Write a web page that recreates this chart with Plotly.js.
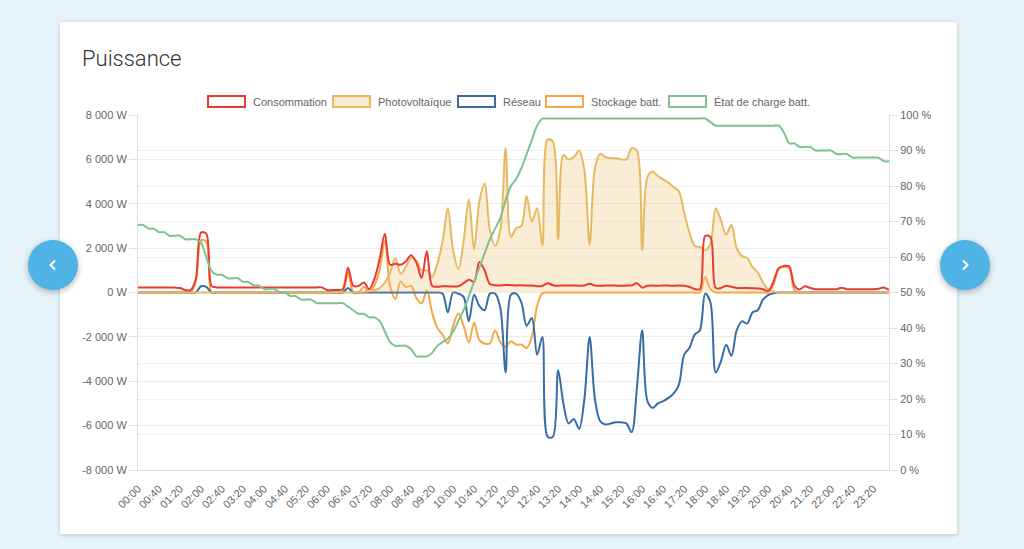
<!DOCTYPE html>
<html>
<head>
<meta charset="utf-8">
<script src="https://cdn.plot.ly/plotly-3.0.1.min.js"></script>
<style>
html,body{margin:0;padding:0;width:1024px;height:549px;overflow:hidden;background:#e6f4fa;font-family:"Liberation Sans",Arial,sans-serif;}
#card{position:absolute;left:60px;top:22px;width:897px;height:512px;background:#fff;box-shadow:0 1px 4px rgba(0,0,0,0.2);}
#title{position:absolute;left:82px;top:46px;font-family:Roboto,"Noto Sans",sans-serif;font-weight:300;font-size:22px;line-height:26px;color:#333;}
#chart{position:absolute;left:0;top:0;width:1024px;height:549px;}
.nav{position:absolute;top:240px;width:50px;height:50px;border-radius:50%;background:#4fb3e6;box-shadow:0 2px 6px rgba(0,0,0,0.3);}
.nav svg{position:absolute;left:19px;top:19px;}
</style>
</head>
<body>
<div id="card"></div>
<div id="title">Puissance</div>
<div id="chart"></div>
<div class="nav" style="left:28px;"><svg width="12" height="12" viewBox="0 0 12 12"><polyline points="8,1.5 3.5,6 8,10.5" fill="none" stroke="#fff" stroke-width="2"/></svg></div>
<div class="nav" style="left:940px;"><svg width="12" height="12" viewBox="0 0 12 12"><polyline points="4,1.5 8.5,6 4,10.5" fill="none" stroke="#fff" stroke-width="2"/></svg></div>
<script>
// ---- Data (10-minute samples, 00:00 .. 23:50) ----
const seriesNames = ["Consommation", "Photovoltaïque", "Réseau", "Stockage batt.", "État de charge batt."];

const consommation = [
  220,220,220,220,220,220,220,220,200,110,110,600,
  2700,2650,300,230,230,230,230,230,230,230,230,230,
  230,230,230,230,230,230,230,230,230,230,230,230,
  110,110,110,150,1120,300,300,450,150,600,1500,2650,
  1250,1300,1250,1400,1680,1350,650,1860,300,260,280,280,
  270,280,420,580,480,1380,1000,380,330,320,340,330,
  320,330,310,320,280,300,420,330,300,320,310,320,
  300,320,400,310,300,310,320,310,300,310,320,420,
  220,300,310,300,320,310,300,310,300,250,160,150,
  2550,2500,200,200,300,260,200,200,200,190,180,150,
  70,500,1100,1200,1180,300,140,280,200,150,150,150,
  150,150,210,150,150,150,150,150,150,170,230,120
];

const photovoltaique = [
  0,0,0,0,0,0,0,0,0,0,0,0,
  0,0,0,0,0,0,0,0,0,0,0,0,
  0,0,0,0,0,0,0,0,0,0,0,0,
  0,0,0,0,0,0,0,30,60,100,200,450,
  900,1550,850,1150,1550,1450,1000,1000,700,1300,2300,3800,
  1900,1050,2300,4200,1950,4100,4900,2800,2100,2850,6500,2500,
  2900,3000,4350,3200,3800,2100,6900,6800,2400,6200,6000,6100,
  6400,5500,2150,5600,6250,6100,6050,6050,6000,6000,6500,6400,
  1900,5200,5450,5250,5100,4950,4750,4550,3600,2700,2100,2050,
  1900,2200,3800,3250,2600,3050,2000,1650,1550,1150,900,450,
  150,50,0,0,0,0,0,0,0,0,0,0,
  0,0,0,0,0,0,0,0,0,0,0,0
];

const reseau = [
  0,0,0,0,0,0,0,0,0,0,0,0,
  280,250,0,0,0,0,0,0,0,0,0,0,
  0,0,0,0,0,0,0,0,0,0,0,0,
  0,0,0,0,200,0,0,0,0,0,0,0,
  0,0,0,0,0,0,0,0,0,0,-50,-900,
  0,-50,-200,-1300,-100,-600,-800,-50,-50,-700,-3600,-100,
  -50,-450,-1500,-1150,-2800,-2000,-6500,-6500,-3500,-5000,-5900,-5700,
  -6150,-4800,-2000,-4800,-5800,-5950,-5900,-5850,-5850,-5900,-6300,-4300,
  -1700,-4900,-5200,-5000,-4900,-4750,-4550,-4150,-2800,-2500,-1900,-1700,
  -50,-450,-3600,-3100,-2350,-2850,-1700,-1300,-1400,-900,-800,-320,
  -120,-30,0,0,0,0,0,0,0,0,0,0,
  0,0,0,0,0,0,0,0,0,0,0,0
];

const stockage = [
  0,0,0,0,0,0,0,0,0,0,0,500,
  2350,2300,0,0,0,0,0,0,0,0,0,0,
  0,0,0,0,0,0,0,0,0,0,0,0,
  0,0,0,0,900,0,0,250,0,300,1000,2350,
  300,-300,500,250,300,-250,-500,100,-900,-1600,-1900,-2300,
  -1500,-950,-1500,-2250,-1350,-2150,-2300,-2300,-1700,-2250,-2450,-2200,
  -2350,-2350,-2500,-2000,-600,-30,0,0,0,0,0,0,
  0,0,0,0,0,0,0,0,0,0,0,0,
  0,0,0,0,0,0,0,0,0,0,0,0,
  700,150,0,0,0,0,0,0,0,0,0,0,
  0,350,1050,1150,1100,100,0,0,0,0,0,0,
  0,0,0,0,0,0,0,0,0,0,0,0
];

const etatCharge = [
  69,69,68,68,67,67,66,66,66,65,65,65,
  64,60,56,55,55,54,54,54,53,53,52,52,
  51,51,51,50,50,49,49,48,48,48,47,47,
  47,47,47,47,46,45,44,44,43,43,42,39,
  36,35,35,35,34,32,32,32,33,35,36,37,
  39,42,45,49,53,57,61,65,68,71,76,80,
  82,85,89,93,97,99,99,99,99,99,99,99,
  99,99,99,99,99,99,99,99,99,99,99,99,
  99,99,99,99,99,99,99,99,99,99,99,99,
  99,98,97,97,97,97,97,97,97,97,97,97,
  97,97,97,95,92,92,91,91,91,90,90,90,
  90,89,89,89,88,88,88,88,88,88,87,87
];

const xTickLabels = ["00:00","00:40","01:20","02:00","02:40","03:20","04:00","04:40","05:20","06:00","06:40","07:20",
  "08:00","08:40","09:20","10:00","10:40","11:20","12:00","12:40","13:20","14:00","14:40","15:20",
  "16:00","16:40","17:20","18:00","18:40","19:20","20:00","20:40","21:20","22:00","22:40","23:20"];
const yTickVals = [-8000,-6000,-4000,-2000,0,2000,4000,6000,8000];
const yTickText = ["-8 000 W","-6 000 W","-4 000 W","-2 000 W","0 W","2 000 W","4 000 W","6 000 W","8 000 W"];
const y2TickVals = [0,10,20,30,40,50,60,70,80,90,100];
const y2TickText = ["0 %","10 %","20 %","30 %","40 %","50 %","60 %","70 %","80 %","90 %","100 %"];

// time categories for each sample
const times = [];
for (let h = 0; h < 24; h++) for (let m = 0; m < 60; m += 10)
  times.push(String(h).padStart(2,"0") + ":" + String(m).padStart(2,"0"));

const colors = {
  conso: "#ea3b30",
  pv: "#e7b962",
  pvFill: "rgba(238,200,130,0.33)",
  reseau: "#386da4",
  stock: "#f6a645",
  soc: "#7fc28f"
};

const line = (c) => ({color: c, width: 2, shape: "spline", smoothing: 0.9});

const traces = [
  {x: times, y: etatCharge, yaxis: "y2", type: "scatter", mode: "lines", name: seriesNames[4], line: line(colors.soc), hoverinfo: "skip"},
  {x: times, y: stockage, type: "scatter", mode: "lines", name: seriesNames[3], line: line(colors.stock), hoverinfo: "skip"},
  {x: times, y: reseau, type: "scatter", mode: "lines", name: seriesNames[2], line: line(colors.reseau), hoverinfo: "skip"},
  {x: times, y: photovoltaique, type: "scatter", mode: "lines", name: seriesNames[1], fill: "tozeroy", fillcolor: colors.pvFill, line: line(colors.pv), hoverinfo: "skip"},
  {x: times, y: consommation, type: "scatter", mode: "lines", name: seriesNames[0], line: line(colors.conso), hoverinfo: "skip"}
];

// plot area in pixels: x 138..889, y 115..470
const L = 138, R = 889, T = 115, B = 470, W = 1024, H = 549;
const px = (p) => (p - L) / (R - L);
const py = (p) => (B - p) / (B - T);

const legendItems = [
  {name: seriesNames[0], x: 208, stroke: colors.conso, fill: "#fff"},
  {name: seriesNames[1], x: 333, stroke: colors.pv, fill: "rgba(238,200,130,0.35)"},
  {name: seriesNames[2], x: 458, stroke: colors.reseau, fill: "#fff"},
  {name: seriesNames[3], x: 546, stroke: colors.stock, fill: "#fff"},
  {name: seriesNames[4], x: 669, stroke: colors.soc, fill: "#fff"}
];
const shapes = [], annotations = [];
legendItems.forEach(it => {
  shapes.push({type: "rect", xref: "paper", yref: "paper",
    x0: px(it.x), x1: px(it.x + 37), y0: py(107), y1: py(96),
    line: {color: it.stroke, width: 2}, fillcolor: it.fill});
  annotations.push({xref: "paper", yref: "paper", x: px(it.x + 43), y: py(101.5),
    xanchor: "left", yanchor: "middle", showarrow: false, text: it.name,
    font: {family: "Liberation Sans, Arial, sans-serif", size: 11, color: "#666"}});
});

const tickFont = {family: "Liberation Sans, Arial, sans-serif", size: 11, color: "#666"};

const layout = {
  width: W, height: H,
  margin: {l: L, r: W - R, t: T, b: H - B, pad: 0},
  paper_bgcolor: "rgba(0,0,0,0)",
  plot_bgcolor: "rgba(0,0,0,0)",
  showlegend: false,
  xaxis: {
    type: "category", range: [0, times.length - 1],
    tickmode: "array", tickvals: xTickLabels, ticktext: xTickLabels,
    tickangle: -45, tickfont: tickFont,
    ticks: "outside", ticklen: 7, tickcolor: "rgba(0,0,0,0)",
    showgrid: false, zeroline: false,
    showline: true, linecolor: "#dedede", linewidth: 1, mirror: false
  },
  yaxis: {
    range: [-8000, 8000], tickmode: "array", tickvals: yTickVals, ticktext: yTickText,
    tickfont: tickFont, ticks: "outside", ticklen: 8, tickcolor: "#e2e2e2",
    showgrid: true, gridcolor: "#ececec", zeroline: false,
    showline: true, linecolor: "#dedede", linewidth: 1
  },
  yaxis2: {
    range: [0, 100], overlaying: "y", side: "right",
    tickmode: "array", tickvals: y2TickVals, ticktext: y2TickText,
    tickfont: tickFont, ticks: "outside", ticklen: 8, tickcolor: "#e2e2e2",
    showgrid: true, gridcolor: "#f1f1f1", zeroline: false,
    showline: true, linecolor: "#dedede", linewidth: 1
  },
  shapes: shapes,
  annotations: annotations
};

Plotly.newPlot("chart", traces, layout, {staticPlot: true, displayModeBar: false});
</script>
</body>
</html>
